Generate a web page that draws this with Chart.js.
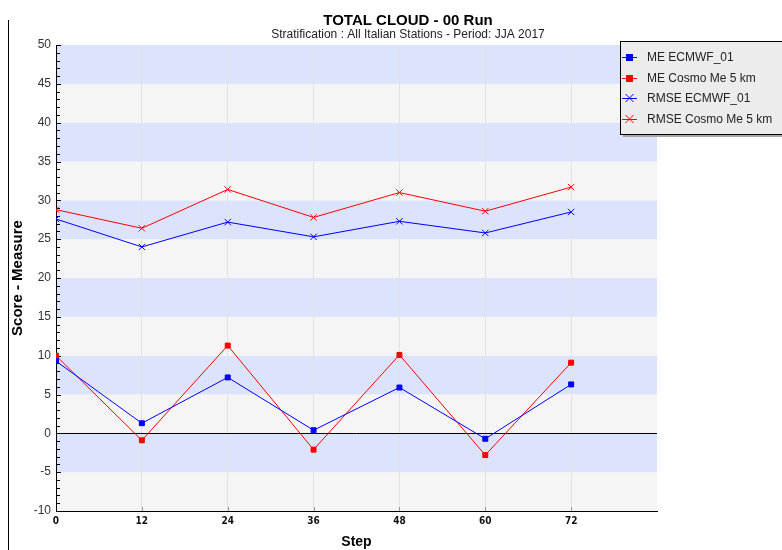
<!DOCTYPE html>
<html lang="en">
<head>
<meta charset="UTF-8">
<title>Total Cloud - 00 Run</title>
<script src="https://cdn.jsdelivr.net/npm/chart.js"></script>
<style>
  body { margin: 0; background: #fff; }
  #wrap { width: 782px; height: 550px; }
</style>
</head>
<body>
<div id="wrap"><canvas id="chart" width="782" height="550"></canvas></div>
<script>
// forecast steps (hours) and scores
const steps = [0, 12, 24, 36, 48, 60, 72];
const meEcmwf = [9.3, 1.3, 7.2, 0.4, 5.9, -0.7, 6.3];
const meCosmo = [10.0, -0.9, 11.3, -2.1, 10.1, -2.8, 9.1];
const rmseEcmwf = [27.6, 24.0, 27.2, 25.3, 27.3, 25.8, 28.5];
const rmseCosmo = [28.8, 26.4, 31.4, 27.8, 31.0, 28.6, 31.7];
const seriesNames = ['ME ECMWF_01', 'ME Cosmo Me 5 km', 'RMSE ECMWF_01', 'RMSE Cosmo Me 5 km'];
const titleText = 'TOTAL CLOUD - 00 Run';
const subtitleText = 'Stratification : All Italian Stations - Period: JJA 2017';

const BLUE = '#0000ff', RED = '#ff0000';
const FONT = '"Liberation Sans", Arial, sans-serif';

const toXY = vals => steps.map((s, i) => ({ x: s, y: vals[i] }));

const decor = {
  id: 'decor',
  beforeDraw(chart) {
    const { ctx, chartArea: a, scales: { y } } = chart;
    ctx.save();
    ctx.fillStyle = '#fff';
    ctx.fillRect(0, 0, chart.width, chart.height);
    // alternating 5-unit bands
    for (let v = -10; v < 50; v += 5) {
      const top = y.getPixelForValue(v + 5), bot = y.getPixelForValue(v);
      ctx.fillStyle = ((45 - v) / 5) % 2 === 0 ? '#dce3fc' : '#f5f5f5';
      ctx.fillRect(a.left, top, a.width, bot - top);
    }
    ctx.restore();
  },
  beforeDatasetsDraw(chart) {
    const { ctx, chartArea: a, scales: { x, y } } = chart;
    ctx.save();
    ctx.lineWidth = 1;
    // zero line
    ctx.strokeStyle = '#000';
    const y0 = Math.round(y.getPixelForValue(0)) + 0.5;
    ctx.beginPath(); ctx.moveTo(a.left, y0); ctx.lineTo(a.right, y0); ctx.stroke();
    // inner y ticks, every unit
    ctx.beginPath();
    for (let v = -10; v <= 50; v++) {
      const py = Math.round(y.getPixelForValue(v)) + 0.5;
      ctx.moveTo(a.left, py);
      ctx.lineTo(a.left + (v % 5 === 0 ? 5 : 4), py);
    }
    ctx.stroke();
    // small x ticks
    ctx.strokeStyle = '#999';
    ctx.beginPath();
    for (let s = 12; s <= 72; s += 12) {
      const px = Math.round(x.getPixelForValue(s)) + 0.5;
      ctx.moveTo(px, a.bottom); ctx.lineTo(px, a.bottom - 4);
    }
    ctx.stroke();
    ctx.restore();
  },
  afterDraw(chart) {
    const { ctx, chartArea: a } = chart;
    ctx.save();
    // left frame line
    ctx.strokeStyle = '#000';
    ctx.lineWidth = 1;
    ctx.beginPath(); ctx.moveTo(8.5, 20); ctx.lineTo(8.5, 550); ctx.stroke();

    // titles
    ctx.fillStyle = '#000';
    ctx.textAlign = 'center';
    ctx.textBaseline = 'alphabetic';
    ctx.font = 'bold 15px ' + FONT;
    ctx.fillText(titleText, 408, 25);
    ctx.fillStyle = '#222';
    ctx.font = '12px ' + FONT;
    ctx.fillText(subtitleText, 408, 38);

    // axis titles
    ctx.fillStyle = '#000';
    ctx.font = 'bold 14px ' + FONT;
    ctx.textBaseline = 'middle';
    ctx.fillText('Step', (a.left + a.right) / 2, 542);
    ctx.save();
    ctx.translate(18, (a.top + a.bottom) / 2);
    ctx.rotate(-Math.PI / 2);
    ctx.font = 'bold 15px ' + FONT;
    ctx.fillText('Score - Measure', 0, 0);
    ctx.restore();

    // legend box
    ctx.fillStyle = '#a8a8a8';
    ctx.fillRect(623, 44, 170, 93);
    ctx.fillStyle = '#ececec';
    ctx.fillRect(620.5, 41.5, 170, 93);
    ctx.strokeStyle = '#000';
    ctx.strokeRect(620.5, 41.5, 170, 93);
    const rows = [57, 78, 98, 119];
    const cols = [BLUE, RED, BLUE, RED];
    rows.forEach((ry, i) => {
      ctx.strokeStyle = cols[i];
      ctx.lineWidth = 1;
      ctx.beginPath(); ctx.moveTo(622, ry + 0.5); ctx.lineTo(637, ry + 0.5); ctx.stroke();
      if (i < 2) {
        ctx.fillStyle = cols[i];
        ctx.fillRect(626, ry - 3, 7, 7);
      } else {
        ctx.beginPath();
        ctx.moveTo(625.5, ry - 4); ctx.lineTo(633.5, ry + 4);
        ctx.moveTo(633.5, ry - 4); ctx.lineTo(625.5, ry + 4);
        ctx.stroke();
      }
      ctx.fillStyle = '#222';
      ctx.font = '12px ' + FONT;
      ctx.textAlign = 'left';
      ctx.textBaseline = 'middle';
      ctx.fillText(seriesNames[i], 647, ry + 0.5);
    });
    ctx.restore();
  }
};

const lineDs = (label, vals, color, style, radius) => ({
  label, data: toXY(vals), borderColor: color, backgroundColor: color,
  borderWidth: 1, pointStyle: style, pointRadius: radius, pointBorderWidth: 1,
  pointBorderColor: color, pointBackgroundColor: color, tension: 0, fill: false
});

new Chart(document.getElementById('chart').getContext('2d'), {
  type: 'line',
  data: {
    datasets: [
      lineDs(seriesNames[0], meEcmwf, BLUE, 'rect', 3.5),
      lineDs(seriesNames[1], meCosmo, RED, 'rect', 3.5),
      lineDs(seriesNames[2], rmseEcmwf, BLUE, 'crossRot', 4.5),
      lineDs(seriesNames[3], rmseCosmo, RED, 'crossRot', 4.5)
    ]
  },
  options: {
    responsive: false,
    animation: false,
    layout: { padding: { top: 45, right: 125, bottom: 0, left: 0 } },
    plugins: { legend: { display: false }, title: { display: false }, tooltip: { enabled: false } },
    scales: {
      x: {
        type: 'linear', min: 0, max: 84,
        afterFit: s => { s.height = 39; },
        ticks: {
          stepSize: 12, padding: 4, color: '#111',
          font: { family: '"DejaVu Sans Condensed", "DejaVu Sans", sans-serif', size: 10, weight: 'bold' },
          callback: v => (v === 84 ? '' : v)
        },
        grid: {
          drawTicks: false,
          color: c => (c.tick && c.tick.value > 0 && c.tick.value < 84 ? '#e2e2e2' : 'rgba(0,0,0,0)')
        },
        border: { color: '#000', width: 1 }
      },
      y: {
        type: 'linear', min: -10, max: 50,
        afterFit: s => { s.width = 56; },
        ticks: { stepSize: 5, padding: 5, color: '#333', font: { family: FONT, size: 12 } },
        grid: { display: false, drawTicks: false },
        border: { color: '#000', width: 1 }
      }
    }
  },
  plugins: [decor]
});
</script>
</body>
</html>
